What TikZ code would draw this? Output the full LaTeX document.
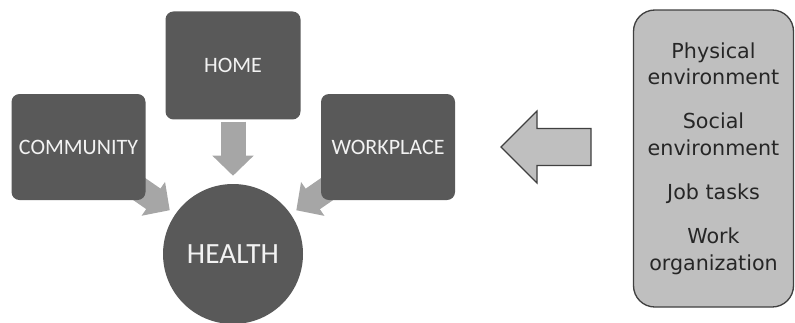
\documentclass[tikz,border=0pt]{standalone}
\usepackage{fontspec}
\usepackage{tikz}
\usepackage{xcolor}
\usetikzlibrary{arrows.meta,backgrounds,positioning}
\newfontfamily\hwboxfont{Carlito}
\newfontfamily\hwlistfont{DejaVu Sans}
\definecolor{hwdark}{RGB}{89,89,89}
\definecolor{hwarrow}{RGB}{166,166,166}
\definecolor{hwlight}{RGB}{191,191,191}
\definecolor{hwline}{RGB}{64,64,64}
\definecolor{hwwhite}{RGB}{242,242,242}
\definecolor{hwtext}{RGB}{38,38,38}
\tikzset{
  hwbox/.style={fill=hwdark, rounded corners=6pt, text=hwwhite, font=\hwboxfont\fontsize{16.5}{20}\selectfont, minimum width=100.5pt, minimum height=79.5pt, inner sep=0pt},
  hwcirc/.style={circle, fill=hwdark, text=hwwhite, font=\hwboxfont\fontsize{22}{26}\selectfont, minimum size=105pt, inner sep=0pt},
  hwlist/.style={draw=hwline, line width=1pt, fill=hwlight, rounded corners=16pt, align=center, text=hwtext, font=\hwlistfont\fontsize{15.5}{20}\selectfont, minimum width=120pt, minimum height=222.75pt, inner sep=0pt},
  hwarr/.style={-{Triangle[length=15pt, width=30pt]}, line width=18.75pt, draw=hwarrow},
  hwbig/.style={draw=hwline, line width=.9pt, fill=hwlight, line join=miter}
}

\begin{document}
\begin{tikzpicture}[x=0.75pt, y=-0.75pt]
  \useasboundingbox (0,0) rectangle (795,322);
  \clip (0,0) rectangle (795,322);
  \node[hwcirc] (health) at (233,254) {HEALTH};
  \node[hwbox, above=48pt of health, minimum width=101.25pt, minimum height=81pt] (home) {HOME};
  \node[hwbox] (community) at (78.5,147) {COMMUNITY};
  \node[hwbox] (workplace) at (388,147) {WORKPLACE};
  \node[hwlist] (factors) at (713.5,158.5) {Physical\\environment\\[13pt]Social\\environment\\[13pt]Job tasks\\[13pt]Work\\organization};
  % influence arrows, under the boxes
  \begin{scope}[on background layer]
    \draw[hwarr, shorten <=1.5pt, shorten >=6pt] (home.south) -- (health.north);
    \draw[hwarr, shorten >=5pt] (community.center) -- (health);
    \draw[hwarr, shorten >=5pt] (workplace.center) -- (health);
  \end{scope}
  % block arrow from the factors
  \draw[hwbig] (501,147) -- (537,111) -- (537,128.5) -- (591,128.5) -- (591,165.5) -- (537,165.5) -- (537,183) -- cycle;
\end{tikzpicture}
\end{document}
